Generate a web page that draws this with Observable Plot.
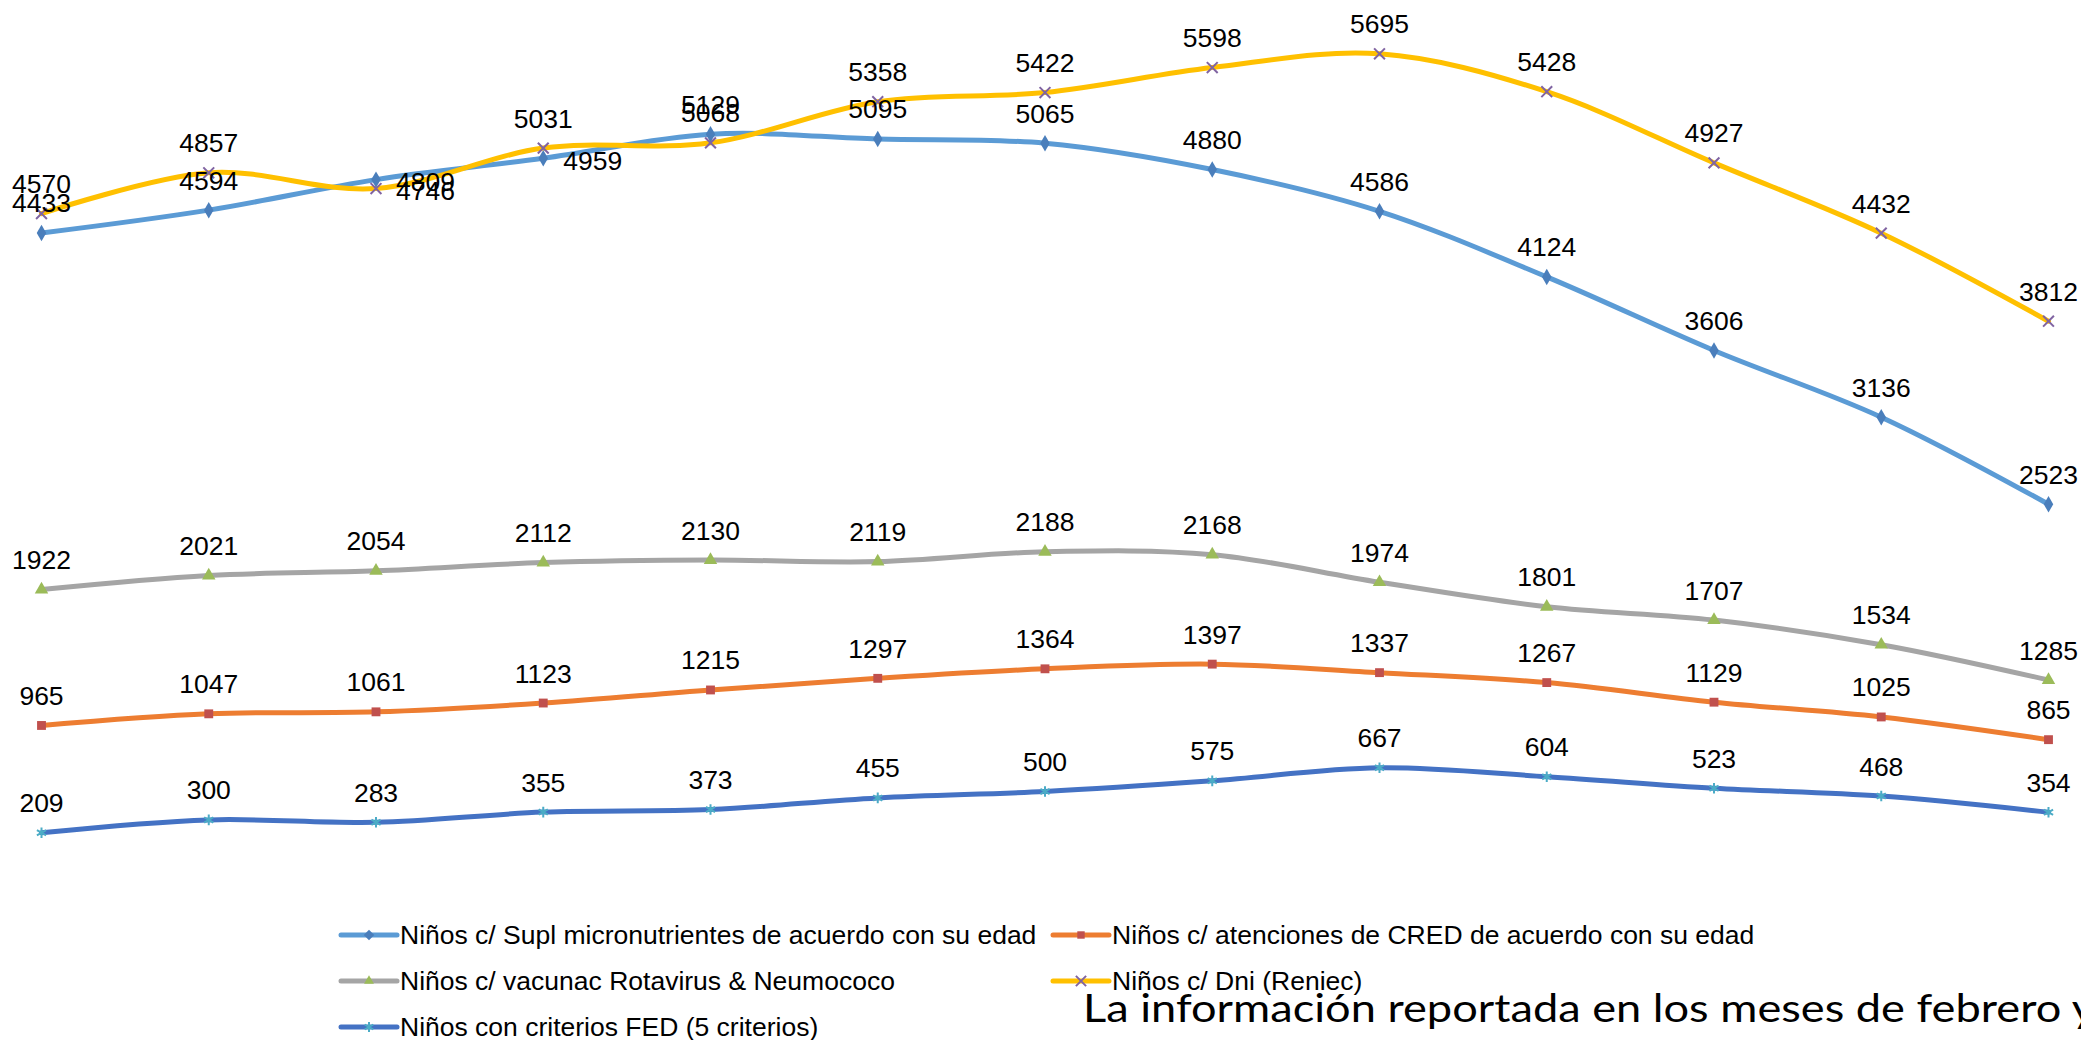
<!DOCTYPE html>
<html><head><meta charset="utf-8">
<script src="https://cdn.jsdelivr.net/npm/d3@7"></script>
<script src="https://cdn.jsdelivr.net/npm/@observablehq/plot@0.6"></script>
<style>
html,body{margin:0;padding:0;background:#fff;overflow:hidden;width:2081px;height:1040px;}
#chart svg{display:block;}
#legend{position:relative;width:2081px;height:140px;}
#legend svg{display:block;overflow:visible;}
</style></head><body>
<div id="chart"></div>
<div id="legend"></div>
<script>
// ---- data ----
const periodos = [1, 2, 3, 4, 5, 6, 7, 8, 9, 10, 11, 12, 13];
const seriesNames = [
  "Niños c/ Supl micronutrientes de acuerdo con su edad",
  "Niños c/ atenciones de CRED de acuerdo con su edad",
  "Niños c/ vacunac Rotavirus & Neumococo",
  "Niños c/ Dni (Reniec)",
  "Niños con criterios FED (5 criterios)"
];
const supl    = [4433, 4594, 4809, 4959, 5129, 5095, 5065, 4880, 4586, 4124, 3606, 3136, 2523];
const cred    = [965, 1047, 1061, 1123, 1215, 1297, 1364, 1397, 1337, 1267, 1129, 1025, 865];
const vacunac = [1922, 2021, 2054, 2112, 2130, 2119, 2188, 2168, 1974, 1801, 1707, 1534, 1285];
const dni     = [4570, 4857, 4746, 5031, 5068, 5358, 5422, 5598, 5695, 5428, 4927, 4432, 3812];
const fed     = [209, 300, 283, 355, 373, 455, 500, 575, 667, 604, 523, 468, 354];
const footnote = "La información reportada en los meses de febrero y";

// ---- styles ----
const valuesBySeries = [supl, cred, vacunac, dni, fed];
const lineColors   = ["#5B9BD5", "#ED7D31", "#A5A5A5", "#FFC000", "#4472C4"];
const markerColors = ["#4A7EBB", "#C0504D", "#9BBB59", "#8064A2", "#4BACC6"];
const markerSymbols = ["diamond", "square", "triangle", "times", "asterisk"];
// labels Excel moved to the right of their point: [series index, period index]
const rightLabels = [[0, 2], [3, 2], [0, 3]];
const isRight = d => rightLabels.some(([s, i]) => s === d.s && i === d.i);

const rows = [];
valuesBySeries.forEach((vals, s) => vals.forEach((v, i) => rows.push({s, i, periodo: periodos[i], value: v})));

const FONT = "'Liberation Sans', Arial, sans-serif";
const marks = [];
valuesBySeries.forEach((vals, s) => {
  const data = rows.filter(d => d.s === s);
  marks.push(Plot.line(data, {x: "periodo", y: "value", stroke: lineColors[s], strokeWidth: 5, curve: "cardinal", strokeLinecap: "round"}));
});
valuesBySeries.forEach((vals, s) => {
  const data = rows.filter(d => d.s === s);
  const stroked = markerSymbols[s] === "times" || markerSymbols[s] === "asterisk";
  marks.push(Plot.dot(data, {x: "periodo", y: "value", symbol: () => markerSymbols[s], r: 5,
    fill: stroked ? "none" : markerColors[s], stroke: stroked ? markerColors[s] : "none", strokeWidth: stroked ? 2 : 0}));
});
marks.push(Plot.text(rows.filter(d => !isRight(d)), {x: "periodo", y: "value", text: d => String(d.value),
  dy: -29, lineAnchor: "middle", fontSize: 26.5, fill: "#000"}));
marks.push(Plot.text(rows.filter(d => isRight(d)), {x: "periodo", y: "value", text: d => String(d.value),
  dx: 20, dy: 3, textAnchor: "start", lineAnchor: "middle", fontSize: 26.5, fill: "#000"}));

const chart = Plot.plot({
  width: 2081,
  height: 900,
  marginTop: 10,
  marginBottom: 38,
  marginLeft: 41,
  marginRight: 33,
  x: {domain: [1, 13], axis: null},
  y: {domain: [0, 6000], axis: null},
  style: {fontFamily: FONT, background: "#fff", overflow: "visible"},
  marks
});
document.getElementById("chart").appendChild(chart);

// ---- legend ----
const lg = d3.select("#legend").append("svg").attr("width", 2081).attr("height", 140);
const slots = [[341, 35], [1053, 35], [341, 81], [1053, 81], [341, 127]];
seriesNames.forEach((name, s) => {
  const [x0, y0] = slots[s];
  const g = lg.append("g").attr("transform", `translate(${x0},${y0})`);
  g.append("line").attr("x1", 0).attr("x2", 56).attr("y1", 0).attr("y2", 0)
    .attr("stroke", lineColors[s]).attr("stroke-width", 5).attr("stroke-linecap", "round");
  const sym = {diamond: d3.symbolDiamond2, square: d3.symbolSquare2, triangle: d3.symbolTriangle2, times: d3.symbolTimes, asterisk: d3.symbolAsterisk}[markerSymbols[s]];
  const stroked = markerSymbols[s] === "times" || markerSymbols[s] === "asterisk";
  g.append("path").attr("transform", "translate(28,0)").attr("d", d3.symbol(sym, 70)())
    .attr("fill", stroked ? "none" : markerColors[s]).attr("stroke", stroked ? markerColors[s] : "none").attr("stroke-width", 2);
  g.append("text").attr("x", 59).attr("y", 9).attr("font-family", FONT).attr("font-size", 26.5).attr("fill", "#000").text(name);
});
lg.append("text").attr("x", 1083).attr("y", 122).attr("font-family", "Lato, 'Open Sans', sans-serif")
  .attr("font-size", 39).attr("fill", "#000")
  .attr("textLength", 1012).attr("lengthAdjust", "spacingAndGlyphs").text(footnote);
</script>
</body></html>
